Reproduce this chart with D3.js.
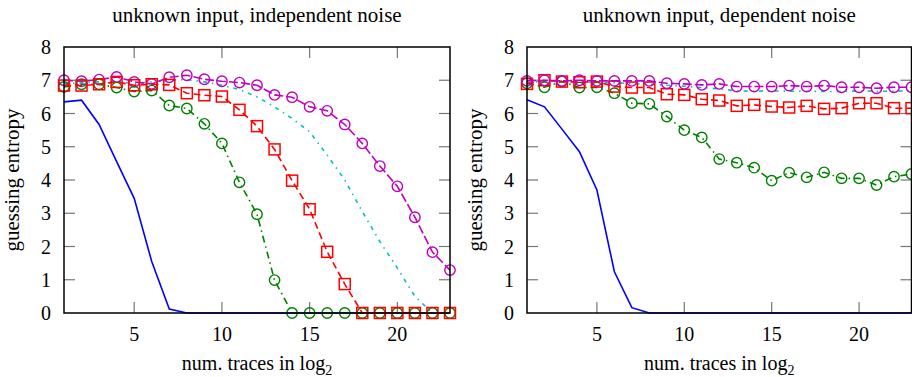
<!DOCTYPE html>
<html>
<head>
<meta charset="utf-8">
<script src="https://cdn.jsdelivr.net/npm/d3@7/dist/d3.min.js"></script>
<style>
  html, body { margin: 0; padding: 0; background: #fff; }
  svg { display: block; }
</style>
</head>
<body>
<div id="chart"></div>
<script>
'use strict';

// ---- data -----------------------------------------------------------------
const logTraces = [1, 2, 3, 4, 5, 6, 7, 8, 9, 10, 11, 12, 13, 14, 15, 16, 17, 18, 19, 20, 21, 22, 23];
const xTicks = [5, 10, 15, 20];
const yTicks = [0, 1, 2, 3, 4, 5, 6, 7, 8];
const panelTitles = ['unknown input, independent noise', 'unknown input, dependent noise'];

// left panel: independent noise
const indepBlue    = [6.35, 6.40, 5.67, 4.55, 3.45, 1.55, 0.12, 0, 0, 0, 0, 0, 0, 0, 0, 0, 0, 0, 0, 0, 0, 0, 0];
const indepCyan    = [6.90, 6.92, 6.95, 6.97, 6.90, 6.95, 7.00, 7.02, 6.95, 6.85, 6.72, 6.50, 6.20, 5.85, 5.45, 4.75, 4.00, 3.05, 2.15, 1.35, 0.50, 0, 0];
const indepMagenta = [7.00, 6.97, 7.02, 7.10, 6.95, 6.89, 7.09, 7.15, 7.03, 6.97, 6.93, 6.85, 6.56, 6.49, 6.20, 6.08, 5.67, 5.10, 4.42, 3.81, 2.88, 1.83, 1.29];
const indepRed     = [6.84, 6.84, 6.88, 6.95, 6.85, 6.88, 6.86, 6.61, 6.55, 6.51, 6.11, 5.62, 4.92, 3.98, 3.12, 1.84, 0.87, 0, 0, 0, 0, 0, 0];
const indepGreen   = [6.80, 6.88, 6.88, 6.78, 6.66, 6.69, 6.24, 6.15, 5.69, 5.10, 3.93, 2.97, 0.99, 0, 0, 0, 0, 0, 0, 0, 0, 0, 0];

// right panel: dependent noise
const depBlue    = [6.41, 6.20, 5.53, 4.85, 3.70, 1.24, 0.16, 0, 0, 0, 0, 0, 0, 0, 0, 0, 0, 0, 0, 0, 0, 0, 0];
const depCyan    = [6.93, 6.97, 6.97, 6.95, 6.93, 6.92, 6.90, 6.88, 6.85, 6.82, 6.78, 6.74, 6.68, 6.67, 6.68, 6.67, 6.67, 6.66, 6.66, 6.68, 6.67, 6.67, 6.68];
const depMagenta = [6.98, 7.00, 6.98, 7.00, 6.98, 6.98, 6.98, 6.98, 6.91, 6.89, 6.86, 6.89, 6.81, 6.81, 6.81, 6.84, 6.81, 6.84, 6.79, 6.79, 6.76, 6.79, 6.79];
const depRed     = [6.89, 7.00, 6.96, 6.94, 6.96, 6.81, 6.78, 6.78, 6.58, 6.56, 6.43, 6.39, 6.23, 6.26, 6.21, 6.18, 6.23, 6.14, 6.16, 6.31, 6.31, 6.16, 6.16];
const depGreen   = [6.91, 6.79, 6.96, 6.78, 6.79, 6.61, 6.31, 6.29, 5.91, 5.50, 5.28, 4.63, 4.52, 4.37, 3.98, 4.22, 4.08, 4.23, 4.05, 4.05, 3.85, 4.10, 4.18];

// ---- styles --------------------------------------------------------------
const seriesStyles = [
  { key: 'blue',    color: '#0000ff', dash: null,        marker: null },
  { key: 'cyan',    color: '#00c0c0', dash: '4,5,1.5,5', marker: null },
  { key: 'magenta', color: '#c000c0', dash: '9,3',       marker: 'circle' },
  { key: 'red',     color: '#ff0000', dash: '7,4',       marker: 'square' },
  { key: 'green',   color: '#008000', dash: '7,4,1.5,4', marker: 'circle' }
];

const panels = [
  { title: panelTitles[0], left: 64,  width: 386,
    series: { blue: indepBlue, cyan: indepCyan, magenta: indepMagenta, red: indepRed, green: indepGreen },
    order: ['blue', 'cyan', 'magenta', 'green', 'red'] },
  { title: panelTitles[1], left: 527, width: 384.5,
    series: { blue: depBlue, cyan: depCyan, magenta: depMagenta, red: depRed, green: depGreen },
    order: ['blue', 'cyan', 'green', 'red', 'magenta'] }
];

const W = 912, H = 377;
const TOP = 47, BOTTOM = 313;
const FONT = "'Liberation Serif', 'Times New Roman', serif";

const svg = d3.select('#chart').append('svg')
  .attr('width', W)
  .attr('height', H)
  .attr('viewBox', `0 0 ${W} ${H}`)
  .style('font-family', FONT);

panels.forEach(p => {
  const x = d3.scaleLinear().domain([1, 23]).range([p.left, p.left + p.width]);
  const y = d3.scaleLinear().domain([0, 8]).range([BOTTOM, TOP]);
  const g = svg.append('g');
  const cx = p.left + p.width / 2;

  // title
  g.append('text')
    .attr('x', cx).attr('y', 22)
    .attr('text-anchor', 'middle')
    .attr('font-size', 21)
    .text(p.title);

  // inward ticks (grey) on all four sides
  const tickLen = 11;
  const ticks = g.append('g').attr('stroke', '#777').attr('stroke-width', 1.2);
  xTicks.forEach(t => {
    ticks.append('line').attr('x1', x(t)).attr('x2', x(t)).attr('y1', BOTTOM).attr('y2', BOTTOM - tickLen);
    ticks.append('line').attr('x1', x(t)).attr('x2', x(t)).attr('y1', TOP).attr('y2', TOP + tickLen);
  });
  yTicks.slice(1, -1).forEach(t => {
    ticks.append('line').attr('x1', p.left).attr('x2', p.left + tickLen).attr('y1', y(t)).attr('y2', y(t));
    ticks.append('line').attr('x1', p.left + p.width).attr('x2', p.left + p.width - tickLen).attr('y1', y(t)).attr('y2', y(t));
  });

  // tick labels
  g.append('g').selectAll('text')
    .data(xTicks).join('text')
    .attr('x', d => x(d)).attr('y', 341)
    .attr('text-anchor', 'middle')
    .attr('font-size', 20)
    .text(d => d);
  g.append('g').selectAll('text')
    .data(yTicks).join('text')
    .attr('x', p.left - 13).attr('y', d => y(d) + 7)
    .attr('text-anchor', 'end')
    .attr('font-size', 20)
    .text(d => d);

  // axis labels
  const xl = g.append('text')
    .attr('x', cx).attr('y', 370)
    .attr('text-anchor', 'middle')
    .attr('font-size', 20)
    .text('num. traces in log');
  xl.append('tspan').attr('font-size', 14).attr('dy', 5).text('2');

  g.append('text')
    .attr('transform', `translate(${p.left - 45},${(TOP + BOTTOM) / 2}) rotate(-90)`)
    .attr('text-anchor', 'middle')
    .attr('font-size', 21)
    .text('guessing entropy');

  // series
  const clipId = 'clip' + p.left;
  svg.append('defs').append('clipPath').attr('id', clipId)
    .append('rect').attr('x', p.left - 8).attr('y', TOP - 8).attr('width', p.width + 16).attr('height', BOTTOM - TOP + 16);
  const plot = g.append('g').attr('clip-path', `url(#${clipId})`);
  const line = d3.line().x((d, i) => x(logTraces[i])).y(d => y(d));

  p.order.forEach(key => {
    const st = seriesStyles.find(s => s.key === key);
    const vals = p.series[key];
    const sg = plot.append('g');
    sg.append('path')
      .datum(vals)
      .attr('d', line)
      .attr('fill', 'none')
      .attr('stroke', st.color)
      .attr('stroke-width', 1.6)
      .attr('stroke-dasharray', st.dash);
    if (st.marker === 'circle') {
      sg.selectAll('circle').data(vals).join('circle')
        .attr('cx', (d, i) => x(logTraces[i]))
        .attr('cy', d => y(d))
        .attr('r', 5.2)
        .attr('fill', 'none')
        .attr('stroke', st.color)
        .attr('stroke-width', 1.4);
    } else if (st.marker === 'square') {
      sg.selectAll('rect').data(vals).join('rect')
        .attr('x', (d, i) => x(logTraces[i]) - 5.5)
        .attr('y', d => y(d) - 5.5)
        .attr('width', 11).attr('height', 11)
        .attr('fill', 'none')
        .attr('stroke', st.color)
        .attr('stroke-width', 1.5);
    }
  });

  // frame
  g.append('rect')
    .attr('x', p.left).attr('y', TOP)
    .attr('width', p.width).attr('height', BOTTOM - TOP)
    .attr('fill', 'none')
    .attr('stroke', '#000')
    .attr('stroke-width', 1.5);
});
</script>
</body>
</html>
